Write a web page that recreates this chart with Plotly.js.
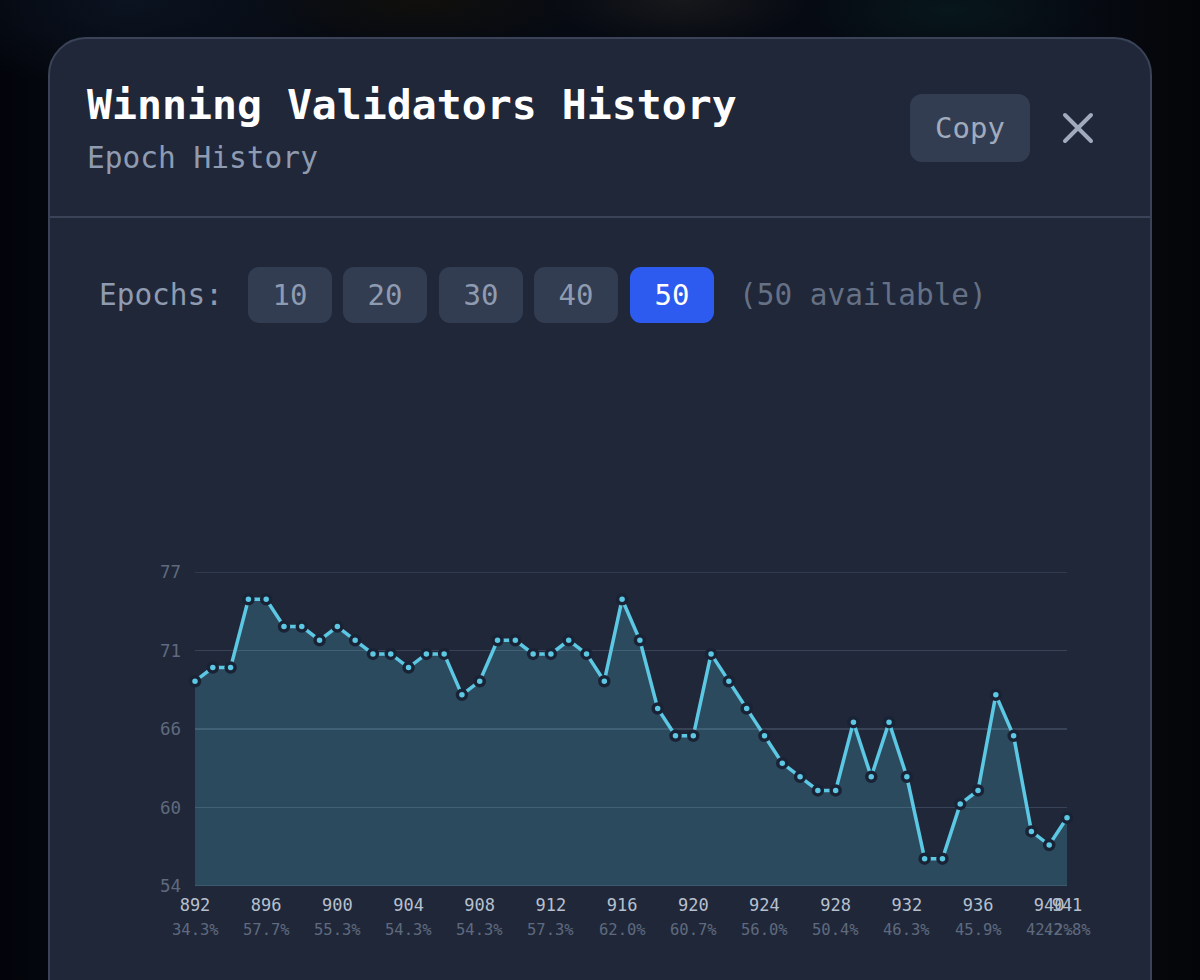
<!DOCTYPE html>
<html><head><meta charset="utf-8">
<script src="https://cdn.plot.ly/plotly-3.0.1.min.js"></script>
<style>
html,body{margin:0;padding:0;width:1200px;height:980px;overflow:hidden;background:#04060c;font-family:"DejaVu Sans Mono",monospace}
#bg{position:absolute;inset:0;background:radial-gradient(ellipse 130px 45px at 680px 0,#17181b,transparent),radial-gradient(ellipse 170px 50px at 420px 0,#100f0c,transparent),radial-gradient(ellipse 150px 55px at 950px 10px,#07171b,transparent),radial-gradient(ellipse 220px 90px at 130px 0,#0b1320,transparent),linear-gradient(90deg,#02040a,#060a12 10%,#060a12 90%,#040508)}
#card{position:absolute;left:48px;top:37px;width:1104px;height:1000px;box-sizing:border-box;background:#1f2739;border:2px solid #3a4357;border-radius:38px}
.t{position:absolute;white-space:nowrap}
#title{left:87px;top:80px;font-size:41.5px;font-weight:700;color:#fff;line-height:50px}
#sub{left:87px;top:140px;font-size:29.5px;color:#8f9bb0;line-height:36px}
#copy{left:910px;top:94px;width:120px;height:68px;border-radius:12px;background:#333d52;color:#a0abbd;font-size:29px;line-height:68px;text-align:center}
#close{left:1060px;top:110px;width:36px;height:36px}
#rule{position:absolute;left:50px;top:216px;width:1100px;height:2px;background:#3a4357}
#lab{left:99px;top:277px;font-size:29.4px;line-height:36px;color:#8f9bb0}
.b{position:absolute;top:267px;width:84px;height:56px;border-radius:11px;background:#333d52;color:#8f9bb0;font-size:29px;line-height:56px;text-align:center}
#avail{left:739px;top:277px;font-size:29.4px;line-height:36px;color:#667186}
#chart{position:absolute;left:0;top:0;width:1200px;height:980px}
</style></head><body>
<div id="bg"></div><div id="card"></div>
<div class="t" id="title">Winning Validators History</div>
<div class="t" id="sub">Epoch History</div>
<div class="t" id="copy">Copy</div>
<svg class="t" id="close" viewBox="0 0 36 36"><path d="M5 5L31 31M31 5L5 31" stroke="#a0abbd" stroke-width="4" stroke-linecap="round"/></svg>
<div id="rule"></div>
<div class="t" id="lab">Epochs:</div>
<div class="b" style="left:248px">10</div><div class="b" style="left:343px">20</div><div class="b" style="left:439px">30</div><div class="b" style="left:534px">40</div>
<div class="b" style="left:630px;background:#2d5bf0;color:#fff">50</div>
<div class="t" id="avail">(50 available)</div>
<div id="chart"></div>
<script>
const epochs=[892,893,894,895,896,897,898,899,900,901,902,903,904,905,906,907,908,909,910,911,912,913,914,915,916,917,918,919,920,921,922,923,924,925,926,927,928,929,930,931,932,933,934,935,936,937,938,939,940,941];
const validators=[69,70,70,75,75,73,73,72,73,72,71,71,70,71,71,68,69,72,72,71,71,72,71,69,75,72,67,65,65,71,69,67,65,63,62,61,61,66,62,66,62,56,56,60,61,68,65,58,57,59];
const tickEpochs=[892,896,900,904,908,912,916,920,924,928,932,936,940,941];
const tickShares=['34.3%','57.7%','55.3%','54.3%','54.3%','57.3%','62.0%','60.7%','56.0%','50.4%','46.3%','45.9%','42.2%','42.8%'];
const yTicks=[54,59.75,65.5,71.25,77];
const yLabels=['54','60','66','71','77'];
const mono='"DejaVu Sans Mono",monospace';
const gridColor='#394358';
Plotly.newPlot('chart',[{
  x:epochs,y:validators,type:'scatter',mode:'lines+markers',fill:'tozeroy',fillcolor:'rgba(92,200,228,0.22)',
  line:{color:'#5cc8e4',width:3.5},marker:{size:9,color:'#5cc8e4',line:{color:'#1a2335',width:3.5}},cliponaxis:false,hoverinfo:'x+y'
}],{
  width:1200,height:980,margin:{l:194.5,r:133,t:572,b:94},showlegend:false,
  paper_bgcolor:'rgba(0,0,0,0)',plot_bgcolor:'rgba(0,0,0,0)',
  xaxis:{range:[892,941],tickmode:'array',tickvals:tickEpochs,ticktext:tickEpochs.map(String),showgrid:false,zeroline:false,showline:false,ticks:'',tickangle:0,ticklabelstandoff:7,
    tickfont:{family:mono,size:17,color:'#b7c0cf'}},
  yaxis:{range:[54,77],tickmode:'array',tickvals:yTicks,ticktext:yLabels,gridcolor:gridColor,gridwidth:1.5,zeroline:false,showline:false,ticks:'',ticklabelstandoff:13,
    tickfont:{family:mono,size:17.5,color:'#5f6a7e'}},
  shapes:[yTicks[0],yTicks[yTicks.length-1]].map(v=>({type:'line',xref:'paper',x0:0,x1:1,yref:'y',y0:v,y1:v,layer:'below',line:{color:gridColor,width:1.5}})),
  annotations:tickEpochs.map((e,i)=>({x:e,xref:'x',y:0,yref:'paper',yanchor:'middle',yshift:-44,showarrow:false,text:tickShares[i],font:{family:mono,size:15.5,color:'#5f6a7e'}}))
},{displayModeBar:false,staticPlot:true});
</script>
</body></html>
